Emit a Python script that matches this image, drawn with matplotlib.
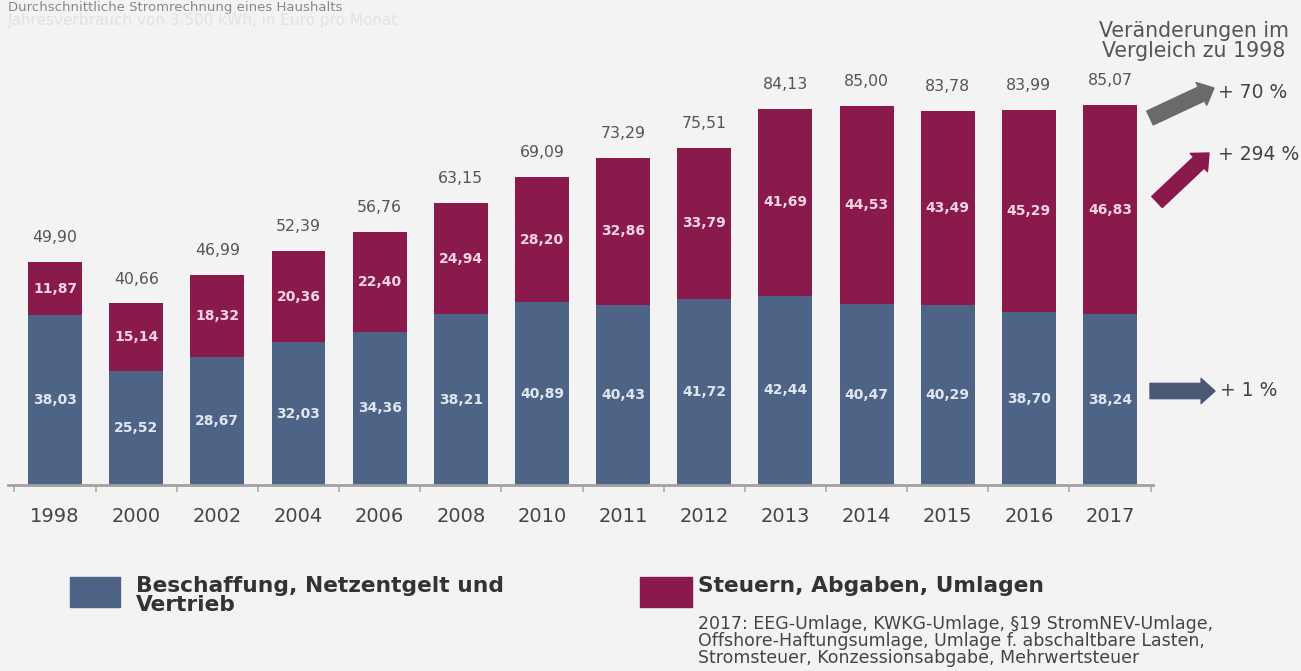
import matplotlib
matplotlib.use("Agg")
import matplotlib.pyplot as plt

plt.rcParams['font.family'] = ['DejaVu Sans']

# Daten: Stromrechnung in Euro/Monat
jahre = ['1998', '2000', '2002', '2004', '2006', '2008', '2010', '2011',
         '2012', '2013', '2014', '2015', '2016', '2017']
beschaffung = [38.03, 25.52, 28.67, 32.03, 34.36, 38.21, 40.89, 40.43,
               41.72, 42.44, 40.47, 40.29, 38.70, 38.24]
steuern = [11.87, 15.14, 18.32, 20.36, 22.40, 24.94, 28.20, 32.86,
           33.79, 41.69, 44.53, 43.49, 45.29, 46.83]
summe = [49.90, 40.66, 46.99, 52.39, 56.76, 63.15, 69.09, 73.29,
         75.51, 84.13, 85.00, 83.78, 83.99, 85.07]
aenderung = ['+ 70 %', '+ 294 %', '+ 1 %']

blau = '#4e6486'
rot = '#8a1a4b'
bg = '#f3f3f3'

def de(v):
    return f'{v:.2f}'.replace('.', ',')

W, H = 1301, 671
fig = plt.figure(figsize=(W / 100, H / 100), dpi=100, facecolor=bg)

# Achse: Basislinie bei y=485 px, 4.464 px pro Euro
ymax = 90
ax_h = ymax * 4.464
ax = fig.add_axes([8 / W, (H - 485) / H, (1153 - 8) / W, ax_h / H])
ax.set_facecolor(bg)

x = list(range(len(jahre)))
ax.bar(x, beschaffung, width=0.665, color=blau, zorder=2)
ax.bar(x, steuern, width=0.665, bottom=beschaffung, color=rot, zorder=2)

for i in x:
    ax.text(i, beschaffung[i] / 2, de(beschaffung[i]), ha='center', va='center',
            color='#dfe6f0', fontsize=10, fontweight='bold')
    ax.text(i, beschaffung[i] + steuern[i] / 2, de(steuern[i]), ha='center',
            va='center', color='#f3d6e2', fontsize=10, fontweight='bold')
    ax.text(i, summe[i] + 3.8, de(summe[i]), ha='center', va='bottom',
            color='#555555', fontsize=11.3)

ax.set_xlim(-0.58, 13.53)
ax.set_ylim(0, ymax)
ax.set_yticks([])
ax.set_xticks(x)
ax.set_xticklabels(jahre, fontsize=14, color='#444444')
ax.tick_params(axis='x', which='major', length=0, pad=16)
ax.set_xticks([i + 0.5 for i in range(-1, len(jahre))], minor=True)
ax.tick_params(axis='x', which='minor', length=5, width=1.2, color='#aaaaaa')
for s in ['top', 'right', 'left']:
    ax.spines[s].set_visible(False)
ax.spines['bottom'].set_color('#a0a0a0')
ax.spines['bottom'].set_linewidth(2)

# Überschrift oben links
fig.text(8 / W, 1 - 1 / H, 'Durchschnittliche Stromrechnung eines Haushalts',
         fontsize=9.5, color='#888888', va='top', ha='left')
fig.text(8 / W, 1 - 20 / H, 'Jahresverbrauch von 3.500 kWh, in Euro pro Monat',
         fontsize=11, color='#e2e2e2', va='center', ha='left')

# Veränderungen rechts
fig.text(1194 / W, 1 - 41 / H, 'Veränderungen im\nVergleich zu 1998', fontsize=14.8,
         color='#555555', ha='center', va='center', linespacing=0.95)

pfeile = [((1150, 118), (1214, 88), '#6a6a6a'),
          ((1157, 202), (1209, 153), rot),
          ((1150, 391), (1215, 391), '#4a5876')]
for (x0, y0), (x1, y1), c in pfeile:
    ax.annotate('', xy=(x1, H - y1), xytext=(x0, H - y0), xycoords='figure pixels',
                textcoords='figure pixels', annotation_clip=False,
                arrowprops=dict(arrowstyle='simple,head_length=0.5,head_width=0.9,tail_width=0.55',
                                color=c, mutation_scale=20, shrinkA=0, shrinkB=0))
for txt, (tx, ty) in zip(aenderung, [(1218, 92), (1218, 154), (1220, 391)]):
    fig.text(tx / W, 1 - ty / H, txt, fontsize=13.5, color='#444444', va='center')

# Legende
fig.patches.append(plt.Rectangle((70 / W, 1 - 607 / H), 50 / W, 30 / H, color=blau,
                                 transform=fig.transFigure, figure=fig))
fig.text(136 / W, 1 - 576 / H, 'Beschaffung, Netzentgelt und\nVertrieb', fontsize=15.7,
         color='#333333', va='top', fontweight='bold', linespacing=0.95)
fig.patches.append(plt.Rectangle((640 / W, 1 - 607 / H), 52 / W, 30 / H, color=rot,
                                 transform=fig.transFigure, figure=fig))
fig.text(698 / W, 1 - 576 / H, 'Steuern, Abgaben, Umlagen', fontsize=15.7,
         color='#333333', va='top', fontweight='bold')
fig.text(698 / W, 1 - 615 / H,
         '2017: EEG-Umlage, KWKG-Umlage, §19 StromNEV-Umlage,\n'
         'Offshore-Haftungsumlage, Umlage f. abschaltbare Lasten,\n'
         'Stromsteuer, Konzessionsabgabe, Mehrwertsteuer',
         fontsize=12.5, color='#444444', va='top', linespacing=0.92)

fig.savefig('out.png', dpi=100, facecolor=bg)
